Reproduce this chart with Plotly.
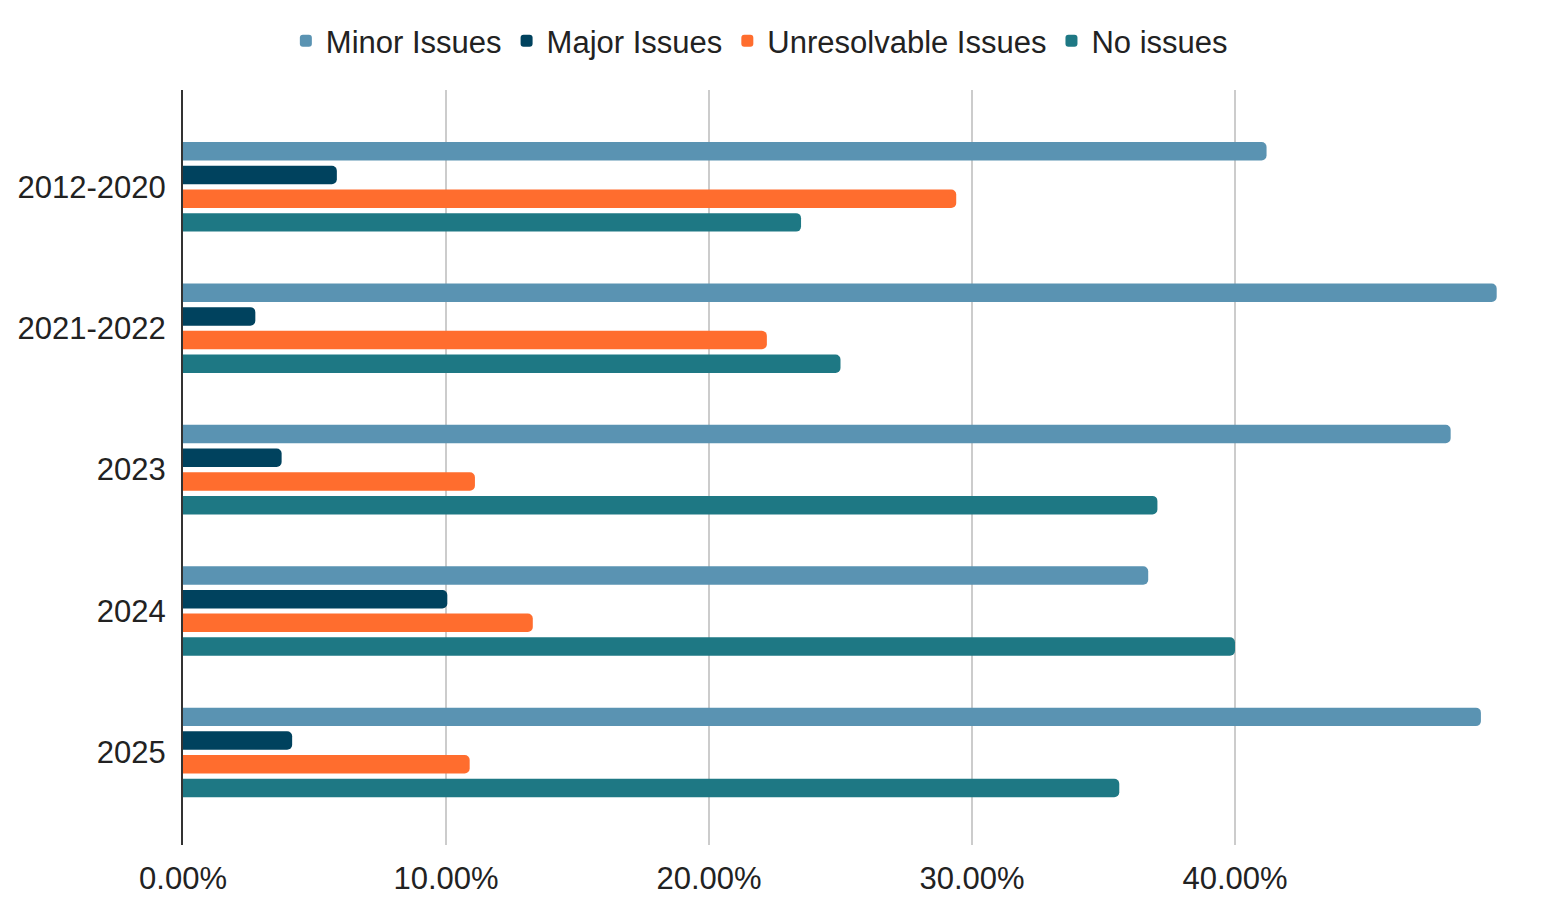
import plotly.graph_objects as go

categories = ["2012-2020", "2021-2022", "2023", "2024", "2025"]
minor_issues = [41.2, 49.95, 48.2, 36.7, 49.35]
major_issues = [5.85, 2.75, 3.75, 10.05, 4.15]
unresolvable_issues = [29.4, 22.2, 11.1, 13.3, 10.9]
no_issues = [23.5, 25.0, 37.05, 40.0, 35.6]

series_names = ["Minor Issues", "Major Issues", "Unresolvable Issues", "No issues"]
series_values = [minor_issues, major_issues, unresolvable_issues, no_issues]
series_colors = ["#5a93b2", "#00425e", "#ff6d2e", "#1e7884"]

tick_values = [0, 10, 20, 30, 40, 50]
tick_labels = ["0.00%", "10.00%", "20.00%", "30.00%", "40.00%", ""]

fig = go.Figure()
for name, vals, col in zip(series_names, series_values, series_colors):
    fig.add_trace(go.Bar(
        y=categories, x=vals, name=name, orientation="h",
        marker=dict(color=col, cornerradius=5, line=dict(width=0)),
    ))

font_family = "Liberation Sans, Arial, sans-serif"
fig.update_layout(
    width=1546, height=922,
    paper_bgcolor="white", plot_bgcolor="white",
    margin=dict(l=175, r=56, t=82, b=85, autoexpand=False),
    barmode="group", bargap=0.33, bargroupgap=0.22,
    font=dict(family=font_family, size=31, color="#222222"),
    legend=dict(
        orientation="h", xref="container", yref="container",
        x=0.486, xanchor="center", y=0.964, yanchor="middle",
        font=dict(size=31, color="#222222"), traceorder="normal",
        itemwidth=30,
    ),
    xaxis=dict(
        range=[0, 50], tickvals=tick_values, ticktext=tick_labels,
        showgrid=True, gridcolor="#cccccc", gridwidth=2,
        zeroline=False, showline=False, ticks="",
        ticklabelstandoff=12,
        tickfont=dict(size=31, color="#222222"),
    ),
    yaxis=dict(
        type="category", categoryorder="array", categoryarray=categories,
        range=[4.655, -0.685], showgrid=False, zeroline=False,
        showline=True, linecolor="#333333", linewidth=2,
        ticks="", ticklabelstandoff=9,
        tickfont=dict(size=31, color="#222222"),
    ),
)

fig.write_html("out.html")
